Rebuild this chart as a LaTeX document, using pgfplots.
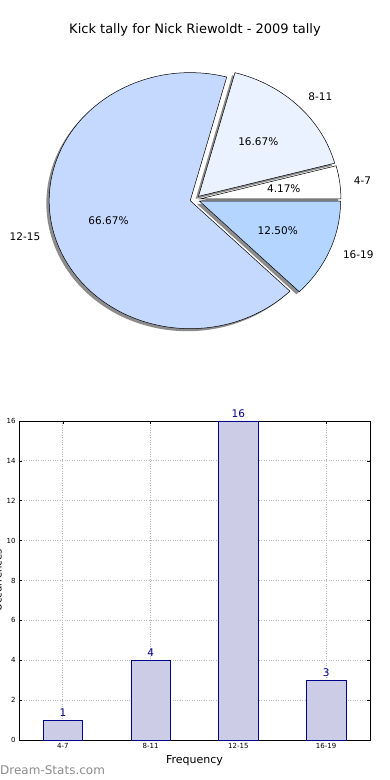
\documentclass[border=0pt]{standalone}
\usepackage{fontspec}
\setmainfont{DejaVu Sans}
\usepackage{pgfplots}
\pgfplotsset{compat=1.18}
\definecolor{cA}{RGB}{255,255,255}
\definecolor{cB}{RGB}{234,241,255}
\definecolor{cC}{RGB}{197,217,255}
\definecolor{cD}{RGB}{179,213,255}
\definecolor{barfill}{RGB}{204,204,230}
\definecolor{navy}{RGB}{0,0,140}
\definecolor{wm}{RGB}{140,140,140}
% pie slice: #1 start angle, #2 end angle, #3 style, #4 dx, #5 dy
\newcommand{\pieslice}[5]{%
  \path[#3] (axis cs:{#4+0.035*cos((#1+#2)/2)},{#5+0.035*sin((#1+#2)/2)})
    -- (axis cs:{#4+0.035*cos((#1+#2)/2)+cos(#1)},{#5+0.035*sin((#1+#2)/2)+sin(#1)})
    arc[start angle=#1, end angle=#2, x radius=141pt, y radius=128pt] -- cycle;}
% label: #1 mid angle, #2 distance, #3 anchor, #4 text
\newcommand{\pielabel}[4]{%
  \node[anchor=#3, inner sep=0pt, font=\fontsize{10.5}{12}\selectfont]
    at (axis cs:{(0.035+#2)*cos(#1)},{(0.035+#2)*sin(#1)}) {#4};}
\begin{document}
\begin{tikzpicture}
\useasboundingbox (0,0) rectangle (390pt,780pt);
\node[font=\fontsize{13}{15}\selectfont] at (195pt,750pt) {Kick tally for Nick Riewoldt - 2009 tally};
% ---------- pie (counts 1, 4, 16, 3 of 24 -> 15, 60, 240, 45 degrees)
\begin{axis}[at={(195pt,580.5pt)}, anchor=origin, x=141pt, y=128pt,
  xmin=-1.5, xmax=1.5, ymin=-1.2, ymax=1.2, hide axis, clip=false]
  \pieslice{0}{15}{fill=black!45}{-0.02}{-0.02}
  \pieslice{15}{75}{fill=black!45}{-0.02}{-0.02}
  \pieslice{75}{315}{fill=black!45}{-0.02}{-0.02}
  \pieslice{315}{360}{fill=black!45}{-0.02}{-0.02}
  \pieslice{0}{15}{fill=cA, draw=black, line width=0.5pt}{0}{0}
  \pieslice{15}{75}{fill=cB, draw=black, line width=0.5pt}{0}{0}
  \pieslice{75}{315}{fill=cC, draw=black, line width=0.5pt}{0}{0}
  \pieslice{315}{360}{fill=cD, draw=black, line width=0.5pt}{0}{0}
  \pielabel{7.5}{1.1}{west}{4-7}
  \pielabel{45}{1.1}{west}{8-11}
  \pielabel{195}{1.1}{east}{12-15}
  \pielabel{337.5}{1.1}{west}{16-19}
  \pielabel{7.5}{0.6}{center}{4.17\%}
  \pielabel{45}{0.6}{center}{16.67\%}
  \pielabel{195}{0.6}{center}{66.67\%}
  \pielabel{337.5}{0.6}{center}{12.50\%}
\end{axis}
% ---------- bars
\begin{axis}[at={(19pt,40pt)}, anchor=south west, scale only axis,
  width=351pt, height=319pt,
  xmin=-0.5, xmax=3.5, ymin=0, ymax=16,
  xtick={0,1,2,3}, xticklabels={4-7,8-11,12-15,16-19},
  ytick={0,2,...,16},
  grid=major, grid style={dotted, black!28, line width=0.8pt},
  tick label style={font=\fontsize{7}{8}\selectfont},
  /pgf/number format/assume math mode=true,
  axis line style={line width=0.8pt},
  tick style={black, line width=0.5pt}, major tick length=3pt,
  clip=false,
  xlabel={Frequency},
  xlabel style={at={(axis description cs:0.5,0)}, anchor=center, yshift=-21pt, font=\fontsize{11}{13}\selectfont},
  ylabel={Occurrences},
  ylabel style={at={(axis description cs:-0.06,0.5)}, anchor=center, font=\fontsize{10}{12}\selectfont},
  ]
  \addplot[ybar, bar width=0.45, fill=barfill, draw=navy, line width=0.6pt,
    nodes near coords,
    nodes near coords style={font=\fontsize{10.5}{12}\selectfont, text=navy, anchor=south, yshift=0pt}]
    coordinates {(0,1) (1,4) (2,16) (3,3)};
\end{axis}
\node[anchor=west, inner sep=0pt, text=wm, font=\fontsize{12}{14}\selectfont] at (0pt,10pt) {Dream-Stats.com};
\end{tikzpicture}
\end{document}
